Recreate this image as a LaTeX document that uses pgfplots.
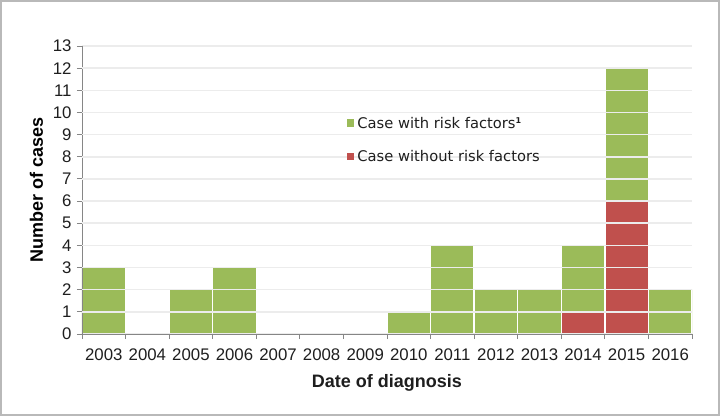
\documentclass[border=0pt]{standalone}
\usepackage{pgfplots}
\pgfplotsset{compat=1.18}
\usepackage{pgfplotstable}
\usepackage{fontspec}
\setmainfont{Liberation Sans}
\newfontfamily\legfont{DejaVu Sans}

\definecolor{riskgreen}{HTML}{9BBB59}
\definecolor{riskred}{HTML}{C0504D}
\definecolor{axisgray}{HTML}{868686}
\definecolor{gridgray}{HTML}{ECECEC}
\definecolor{txt}{HTML}{1E1E1E}

% year index, cases without / with risk factors
\pgfplotstableread{
x red green
0  0 3
1  0 0
2  0 2
3  0 3
4  0 0
5  0 0
6  0 0
7  0 1
8  0 4
9  0 2
10 0 2
11 1 3
12 6 6
13 0 2
}\cases

\pgfplotsset{chartbox/.style={
  at={(0pt,0pt)}, anchor=south west,
  scale only axis, width=610pt, height=288pt,
  xmin=-0.5, xmax=13.5, ymin=0, ymax=13}}

\begin{document}
\begin{tikzpicture}
\useasboundingbox (-82pt,-82pt) rectangle (638pt,334pt);
\draw[gray!55, line width=1.6pt] (-81.2pt,-81.2pt) rectangle (637.2pt,333.2pt);
\begin{axis}[
  chartbox,
  ybar stacked, bar width=1,
  axis on top,
  axis x line*=bottom, axis y line*=left,
  axis line style={axisgray, line width=0.9pt, -},
  tick style={axisgray, line width=0.9pt},
  tick align=outside, major tick length=5pt,
  xtick={-0.5,0.5,...,13.5},
  x tick label as interval,
  xticklabels={2003,2004,2005,2006,2007,2008,2009,2010,2011,2012,2013,2014,2015,2016},
  ytick={0,1,...,13},
  ymajorgrids, grid style={gridgray, line width=1.2pt},
  /pgf/number format/assume math mode=true,
  ticklabel style={font=\fontsize{16.8}{18}\selectfont, text=txt},
  xticklabel style={yshift=-6pt},
  yticklabel style={xshift=-2pt},
  xlabel={Date of diagnosis},
  xlabel style={font=\bfseries\fontsize{18}{20}\selectfont, text=txt,
    at={(rel axis cs:0.5,0)}, anchor=base, yshift=-53pt},
  ylabel={Number of cases},
  ylabel style={font=\bfseries\fontsize{18}{20}\selectfont, text=black,
    at={(rel axis cs:0,0.5)}, anchor=base, yshift=39pt},
]
\addplot[fill=riskred, draw=white, line width=1.4pt] table[x=x, y=red] {\cases};
\addplot[fill=riskgreen, draw=white, line width=1.4pt] table[x=x, y=green] {\cases};
\end{axis}
% overlay axis: light grid lines laid over the bars, and the legend above them
\begin{axis}[
  chartbox,
  axis line style={draw=none},
  xtick=\empty, ytick={1,...,12},
  major tick length=0pt, tick style={draw=none},
  yticklabel style={opacity=0, text opacity=0},
  ymajorgrids, grid style={gridgray, line width=1.5pt},
  legend cell align=left,
  legend image code/.code={\fill[#1, draw=none] (0pt,-3.5pt) rectangle (7.5pt,4pt);},
  legend style={at={(rel axis cs:0.434,0.765)}, anchor=north west,
    draw=none, fill=none, inner sep=0pt, row sep=15pt,
    font=\legfont\fontsize{14.7}{16}\selectfont, text=txt,
    nodes={inner sep=3pt},
    /tikz/every even column/.append style={xshift=3pt}},
]
\addplot[draw=none, forget plot] coordinates {(0,0)};
\addlegendimage{fill=riskgreen}
\addlegendentry{Case with risk factors\raisebox{5pt}{\fontsize{8}{8}\selectfont\bfseries 1}}
\addlegendimage{fill=riskred}
\addlegendentry{Case without risk factors}
\end{axis}
\end{tikzpicture}
\end{document}
